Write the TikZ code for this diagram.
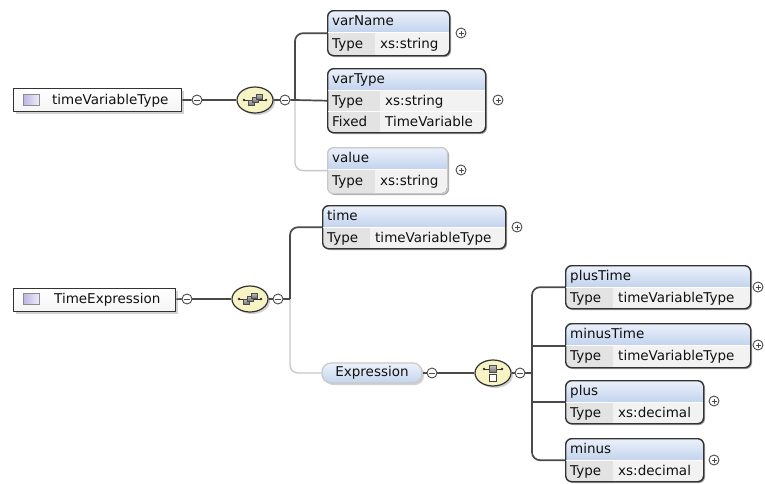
\documentclass[tikz,border=0pt]{standalone}
\usepackage{fontspec}
\setmainfont{DejaVu Sans}
\usetikzlibrary{shapes.geometric,shadows}

\definecolor{linec}{HTML}{4A4A4A}
\definecolor{optline}{HTML}{C9C9C9}
\definecolor{framec}{HTML}{333333}
\definecolor{headtop}{HTML}{EDF2FB}
\definecolor{headbot}{HTML}{C3D4EE}
\definecolor{celllab}{HTML}{E3E3E3}
\definecolor{cellval}{HTML}{F2F2F2}
\definecolor{ovalfill}{HTML}{F8F3C4}
\definecolor{iconlavA}{HTML}{BDB3E3}
\definecolor{iconlavB}{HTML}{EEEBF9}
\definecolor{textc}{HTML}{111111}

\tikzset{
  every node/.style={font=\fontsize{13.5}{15}\selectfont, text=textc},
  conn/.style={draw=linec, line width=1.7pt},
  connopt/.style={draw=optline, line width=1.4pt},
  elemframe/.style={draw=framec, line width=1.4pt, rounded corners=6pt, inner sep=0pt},
  optframe/.style={draw=optline, line width=1.3pt, rounded corners=6pt, inner sep=0pt},
  elemtext/.style={anchor=west, inner sep=0pt, text height=10pt, text depth=1pt},
  boxshadow/.style={fill=black!35, rounded corners=6pt},
  softshadow/.style={drop shadow={shadow xshift=2pt, shadow yshift=-2pt, opacity=0.35}},
  rootbox/.style={draw=framec, line width=1.4pt, top color=white, bottom color=black!4,
    inner sep=0pt, anchor=north west, softshadow},
  rooticon/.style={draw=black!45, line width=0.7pt, left color=iconlavA, right color=iconlavB,
    minimum width=16pt, minimum height=11pt, inner sep=0pt},
  minusc/.style={circle, draw=linec, line width=0.9pt, fill=white, minimum size=10pt, inner sep=0pt,
    path picture={\draw[linec, line width=0.9pt]
      ([xshift=-2.6pt]path picture bounding box.center) -- ([xshift=2.6pt]path picture bounding box.center);}},
  plusc/.style={circle, draw=linec, line width=0.9pt, fill=white, minimum size=10pt, inner sep=0pt,
    path picture={\draw[linec, line width=0.9pt]
      ([xshift=-2.5pt]path picture bounding box.center) -- ([xshift=2.5pt]path picture bounding box.center)
      ([yshift=-2.5pt]path picture bounding box.center) -- ([yshift=2.5pt]path picture bounding box.center);}},
  compoval/.style={ellipse, draw=framec, line width=1.2pt, fill=ovalfill, minimum width=36pt,
    minimum height=26pt, inner sep=0pt, softshadow},
  optpill/.style={draw=optline, line width=1.2pt, rounded corners=9pt, top color=headtop,
    bottom color=headbot, minimum width=100pt, minimum height=20pt, inner sep=0pt, softshadow},
  iconsq/.style={draw=black!70, line width=0.6pt, top color=black!25, bottom color=black!55},
  iconwhite/.style={draw=black!75, line width=0.7pt, fill=white},
  icondot/.style={fill=black!80},
}

% element box: name, left, top, right, bottom, column divider, title, frame style
\newcommand\xsdelem[8]{%
  \fill[boxshadow] (#2+2,#3+2) rectangle (#4+2,#5+2);
  \begin{scope}
    \clip[rounded corners=6pt] (#2,#3) rectangle (#4,#5);
    \shade[top color=headtop, bottom color=headbot] (#2,#3) rectangle (#4,#3+22);
    \fill[cellval] (#6,#3+22) rectangle (#4,#5);
    \fill[celllab] (#2,#3+22) rectangle (#6,#5);
  \end{scope}
  \node[#8, minimum width=#4-#2, minimum height=#5-#3, anchor=north west] (#1) at (#2,#3) {};
  \node[elemtext] (#1-title) at (#2+5,#3+11) {#7};
}

% property row: name, left, divider, right, top, bottom, label, value
\newcommand\xsdrow[8]{%
  \draw[white, line width=1pt] (#2+1,#5) -- (#4-1,#5);
  \node[elemtext] (#1-l) at (#2+5,{(#5+#6)/2}) {#7};
  \node[elemtext] (#1-v) at (#3+5,{(#5+#6)/2}) {#8};
}

\begin{document}
\begin{tikzpicture}[x=1pt, y=-1pt]
\useasboundingbox[fill=white] (0,0) rectangle (765,483);

% ---------------- timeVariableType ----------------
\node[rootbox, minimum width=168, minimum height=23] (tvt) at (13,88) {};
\node[rooticon] (tvt-icon) at (31,100) {};
\node[elemtext] (tvt-name) at (52,100) {timeVariableType};
\node[minusc] (m1) at (197,100) {};
\node[compoval] (seq1) at (255,100) {};
\node[minusc] (m2) at (285,100) {};
\coordinate (b1) at (295,100);

\xsdelem{vn}{327}{10}{449}{55}{375}{varName}{elemframe}
\xsdrow{vn-type}{327}{375}{449}{32}{55}{Type}{xs:string}
\node[plusc] (vn-p) at (461,33) {};

\xsdelem{vt}{327}{68}{485}{132}{380}{varType}{elemframe}
\xsdrow{vt-type}{327}{380}{485}{90}{111}{Type}{xs:string}
\xsdrow{vt-fixed}{327}{380}{485}{111}{132}{Fixed}{TimeVariable}
\node[plusc] (vt-p) at (498,100) {};

\xsdelem{val}{327}{147}{447}{193}{375}{value}{optframe}
\xsdrow{val-type}{327}{375}{447}{169}{193}{Type}{xs:string}
\node[plusc] (val-p) at (461,170) {};

\draw[conn] (tvt) -- (m1);
\draw[conn] (m1) -- (seq1);
\draw[conn] (seq1) -- (m2);
\draw[connopt, rounded corners=8pt] (b1) |- (val.west);
\draw[conn] (m2) -- (b1) -- (vt.west);
\draw[conn, rounded corners=8pt] (b1) |- (vn.west);

% ---------------- TimeExpression ----------------
\node[rootbox, minimum width=162, minimum height=23] (te) at (13,288) {};
\node[rooticon] (te-icon) at (31,299) {};
\node[elemtext] (te-name) at (54,299) {TimeExpression};
\node[minusc] (m3) at (187,299) {};
\node[compoval] (seq2) at (250,299) {};
\node[minusc] (m4) at (278,299) {};
\coordinate (b2) at (290,299);

\xsdelem{tm}{322}{205}{505}{248}{370}{time}{elemframe}
\xsdrow{tm-type}{322}{370}{505}{227}{248}{Type}{timeVariableType}
\node[plusc] (tm-p) at (517,227) {};

\node[optpill] (ex) at (372,373) {Expression};
\node[minusc] (m5) at (432,373) {};
\node[compoval] (ch) at (493,373) {};
\node[minusc] (m6) at (520,373) {};
\coordinate (b3) at (532,373);

\xsdelem{pt}{565}{265}{750}{308}{613}{plusTime}{elemframe}
\xsdrow{pt-type}{565}{613}{750}{287}{308}{Type}{timeVariableType}
\node[plusc] (pt-p) at (758,287) {};

\xsdelem{mt}{565}{323}{750}{367}{613}{minusTime}{elemframe}
\xsdrow{mt-type}{565}{613}{750}{345}{367}{Type}{timeVariableType}
\node[plusc] (mt-p) at (758,345) {};

\xsdelem{pl}{565}{380}{703}{423}{613}{plus}{elemframe}
\xsdrow{pl-type}{565}{613}{703}{402}{423}{Type}{xs:decimal}
\node[plusc] (pl-p) at (714,401) {};

\xsdelem{mi}{565}{438}{703}{481}{613}{minus}{elemframe}
\xsdrow{mi-type}{565}{613}{703}{460}{481}{Type}{xs:decimal}
\node[plusc] (mi-p) at (714,460) {};

\draw[conn] (te) -- (m3);
\draw[conn] (m3) -- (seq2);
\draw[conn] (seq2) -- (m4);
\draw[connopt, rounded corners=8pt] (b2) |- (ex.west);
\draw[conn] (m4) -- (b2);
\draw[conn, rounded corners=8pt] (b2) |- (tm.west);
\draw[conn] (ex) -- (m5);
\draw[conn] (m5) -- (ch);
\draw[conn] (ch) -- (m6);
\draw[conn] (m6) -- (b3);
\draw[conn, rounded corners=8pt] (b3) |- (pt.west);
\draw[conn] (b3) |- (mt.west);
\draw[conn] (b3) |- (pl.west);
\draw[conn, rounded corners=8pt] (b3) |- (mi.west);

% ---------------- compositor glyphs ----------------
\foreach \s in {seq1,seq2}{
  \begin{scope}[shift={(\s.center)}]
    \draw[black!80, line width=0.8pt] (-11,0) -- (11,0);
    \fill[icondot] (-11,0) circle (1.3) (11,0) circle (1.3);
    \draw[iconsq] (-7,0) rectangle (-1,5);
    \draw[iconsq] (-3,-3) rectangle (3,2);
    \draw[iconsq] (1,-6) rectangle (7,-1);
  \end{scope}
}
\begin{scope}[shift={(ch.center)}]
  \draw[black!80, line width=0.8pt] (-9,-4) -- (9,-4);
  \fill[icondot] (-9,-4) circle (1.3) (9,-4) circle (1.3);
  \draw[iconsq] (-3.5,-7.5) rectangle (3.5,-0.5);
  \draw[iconwhite] (-3.5,1.5) rectangle (3.5,8);
\end{scope}
\end{tikzpicture}
\end{document}
